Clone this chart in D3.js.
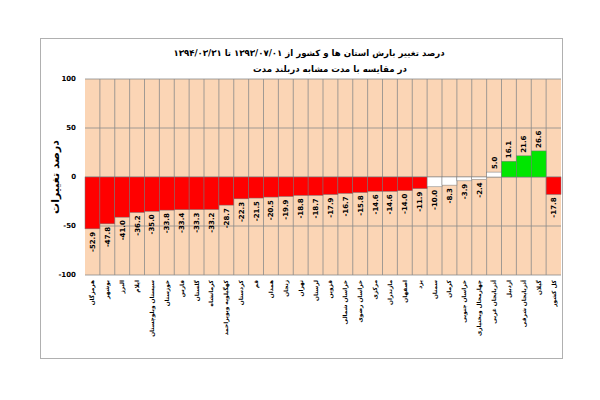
<!DOCTYPE html>
<html><head><meta charset="utf-8">
<script src="https://cdn.jsdelivr.net/npm/d3@7"></script>
<style>body{margin:0;background:#fff}svg{display:block}</style>
</head><body>
<script>
const provinces = ["هرمزگان","بوشهر","البرز","ایلام","سیستان وبلوچستان","خوزستان","فارس","گلستان","کرمانشاه","کهگیلویه وبویراحمد","کردستان","قم","همدان","زنجان","تهران","لرستان","قزوین","خراسان شمالی","خراسان رضوی","مرکزی","مازندران","اصفهان","یزد","سمنان","کرمان","خراسان جنوبی","چهارمحال وبختیاری","آذربایجان غربی","اردبیل","آذربایجان شرقی","گیلان","کل کشور"];
const changes = [-52.9,-47.8,-41.0,-36.2,-35.0,-33.8,-33.4,-33.3,-33.2,-28.7,-22.3,-21.5,-20.5,-19.9,-18.8,-18.7,-17.9,-16.7,-15.8,-14.6,-14.6,-14.0,-11.9,-10.0,-8.3,-3.9,-2.4,5.0,16.1,21.6,26.6,-17.8];
const yTicks = [-100,-50,0,50,100];
const titleLines = ["درصد تغییر بارش استان ها و کشور از ۱۳۹۳/۰۷/۰۱ تا ۱۳۹۴/۰۳/۳۱","در مقایسه با مدت مشابه دربلند مدت"];
const yTitle = "درصد تغییرات";

const W=600,H=400;
const svg=d3.select("body").append("svg").attr("width",W).attr("height",H);
const font="DejaVu Sans, sans-serif";
svg.append("rect").attr("x",40.5).attr("y",38.5).attr("width",522).attr("height",320)
  .attr("fill","#fff").attr("stroke","#b0b0b0");

const L=85,R=561,T=79,B=275;
const x=d3.scaleBand().domain(provinces).range([L,R]).padding(0);
const y=d3.scaleLinear().domain([-100,100]).range([B,T]);

svg.append("rect").attr("x",L).attr("y",T).attr("width",R-L).attr("height",B-T).attr("fill","#FBD5B5");

svg.append("g").selectAll("line").data(provinces.slice(1)).join("line")
  .attr("x1",d=>x(d)).attr("x2",d=>x(d)).attr("y1",T).attr("y2",B)
  .attr("stroke","#8a8a8a").attr("stroke-width",0.8);
svg.append("g").selectAll("line").data(yTicks).join("line")
  .attr("x1",L).attr("x2",R).attr("y1",d=>y(d)).attr("y2",d=>y(d))
  .attr("stroke","#8a8a8a").attr("stroke-width",0.8);

function col(v){ if(v>10) return "#00E600"; if(v>-11 && v<10) return "#ffffff"; return "#FF0000"; }
svg.append("g").selectAll("rect").data(changes).join("rect")
  .attr("x",(d,i)=>x(provinces[i]))
  .attr("width",x.bandwidth())
  .attr("y",d=>y(Math.max(0,d)))
  .attr("height",d=>Math.abs(y(d)-y(0)))
  .attr("fill",d=>col(d)).attr("stroke","#777").attr("stroke-width",0.5);

svg.append("g").selectAll("text").data(changes).join("text")
  .attr("transform",(d,i)=>{const cx=x(provinces[i])+x.bandwidth()/2; const yy=d<0?y(d)+3:y(d)-3; return `translate(${cx},${yy}) rotate(-90)`;})
  .attr("text-anchor",d=>d<0?"end":"start").attr("dy","0.35em")
  .attr("font-family",font).attr("font-size",7).attr("font-weight","bold").attr("fill","#000")
  .text(d=>d.toFixed(1));

svg.append("g").selectAll("text").data(yTicks).join("text")
  .attr("x",76).attr("y",d=>y(d)).attr("dy","0.35em").attr("text-anchor","end")
  .attr("font-family",font).attr("font-size",7).attr("font-weight","bold").text(d=>d);

svg.append("g").selectAll("text").data(provinces).join("text")
  .attr("transform",d=>`translate(${x(d)+x.bandwidth()/2},${B+5}) rotate(-90)`)
  .attr("text-anchor","end").attr("dy","0.35em")
  .attr("font-family",font).attr("font-size",5.8).attr("font-weight","bold").text(d=>d);

svg.append("text").attr("x",309).attr("y",53).attr("dy","0.35em").attr("text-anchor","middle")
  .attr("font-family",font).attr("font-size",8.6).attr("font-weight","bold").text(titleLines[0]);
svg.append("text").attr("x",330).attr("y",69).attr("dy","0.35em").attr("text-anchor","middle")
  .attr("font-family",font).attr("font-size",8.6).attr("font-weight","bold").text(titleLines[1]);

svg.append("text").attr("transform",`translate(55,${(T+B)/2}) rotate(-90)`).attr("text-anchor","middle").attr("dy","0.35em")
  .attr("font-family",font).attr("font-size",11).attr("font-weight","bold").text(yTitle);
</script>
</body></html>
